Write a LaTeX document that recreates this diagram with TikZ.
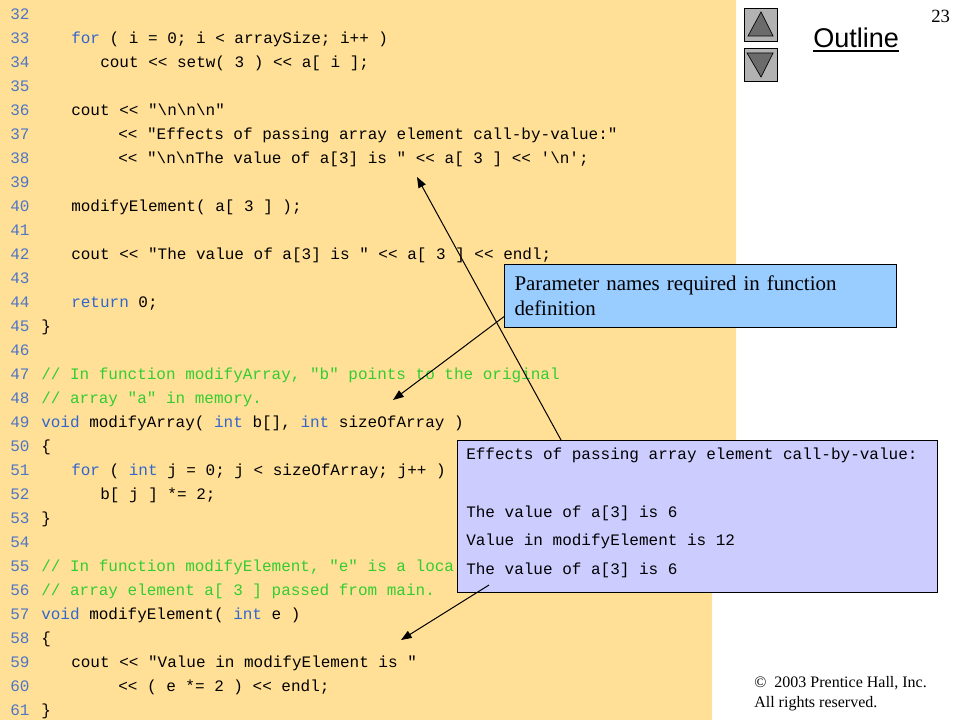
\documentclass[tikz,border=0pt]{standalone}
\usepackage{fontspec}
\usepackage{xcolor}
\usetikzlibrary{arrows.meta}
\setmainfont{Liberation Serif}
\newfontfamily\codefont{Liberation Mono}
\newfontfamily\titlefont{Liberation Sans}
\definecolor{pagebg}{HTML}{FFE096}
\definecolor{numblue}{HTML}{4F75C4}
\definecolor{kwblue}{HTML}{3366CC}
\definecolor{cmtgreen}{HTML}{33CC33}
\definecolor{parambg}{HTML}{99CCFF}
\definecolor{outputbg}{HTML}{CCCCFF}
\newcommand{\kw}[1]{\textcolor{kwblue}{#1}}
\newcommand{\cmt}[1]{\textcolor{cmtgreen}{#1}}
\newcommand{\bs}{\textbackslash}
\tikzset{
    lineno/.style={anchor=base west, inner sep=0pt, text=numblue, font=\codefont\fontsize{12}{14}\selectfont},
    codeline/.style={anchor=base west, inner sep=0pt, font=\codefont\fontsize{12}{14}\selectfont},
    callout/.style={draw=black, line width=.75pt, anchor=north west},
    navbutton/.style={draw=black, line width=.75pt, fill=black!30, anchor=north west, minimum width=24.75pt, minimum height=24.75pt, inner sep=0pt},
    navglyph/.style={draw=black, line width=.5pt, fill=black!58},
    pointer/.style={draw=black, line width=.75pt, -{Triangle[length=8pt,width=6pt]}}
}
\begin{document}
\begin{tikzpicture}[x=.75pt, y=-.75pt]
    \useasboundingbox (0,0) rectangle (960,720);
    % Page background
    \fill[pagebg] (0,0) -- (736,0) -- (736,516) -- (712,516) -- (712,720) -- (0,720) -- cycle;
    % Code lines
    \foreach \i/\ind/\txt in {
        32/41/{},
        33/71/{\kw{for} ( i = 0; i < arraySize; i++ )},
        34/100/{cout << setw( 3 ) << a[ i ];},
        35/41/{},
        36/71/{cout << "\bs n\bs n\bs n"},
        37/118/{<< "Effects of passing array element call-by-value:"},
        38/118/{<< "\bs n\bs nThe value of a[3] is " << a[ 3 ] << '\bs n';},
        39/41/{},
        40/71/{modifyElement( a[ 3 ] );},
        41/41/{},
        42/71/{cout << "The value of a[3] is " << a[ 3 ] << endl;},
        43/41/{},
        44/71/{\kw{return} 0;},
        45/41/{\}},
        46/41/{},
        47/41/{\cmt{// In function modifyArray, "b" points to the original}},
        48/41/{\cmt{// array "a" in memory.}},
        49/41/{\kw{void} modifyArray( \kw{int} b[], \kw{int} sizeOfArray )},
        50/41/{\{},
        51/71/{\kw{for} ( \kw{int} j = 0; j < sizeOfArray; j++ )},
        52/100/{b[ j ] *= 2;},
        53/41/{\}},
        54/41/{},
        55/41/{\cmt{// In function modifyElement, "e" is a loca}},
        56/41/{\cmt{// array element a[ 3 ] passed from main.}},
        57/41/{\kw{void} modifyElement( \kw{int} e )},
        58/41/{\{},
        59/71/{cout << "Value in modifyElement is "},
        60/118/{<< ( e *= 2 ) << endl;},
        61/41/{\}}} {
        \node[lineno] (Num-\i) at (10,{19.5+(\i-32)*24}) {\i};
        \node[codeline] (Code-\i) at (\ind,{19.5+(\i-32)*24}) {\txt};
    }
    % Outline buttons
    \node[navbutton] (BtnUp) at (744,8) {};
    \node[navbutton] (BtnDown) at (744,48) {};
    \draw[navglyph] (761,12) -- (773,36) -- (748,36) -- cycle;
    \draw[navglyph] (747,53) -- (773,53) -- (761,77) -- cycle;
    % Title and page number
    \node[anchor=base west, inner sep=0pt, font=\titlefont\fontsize{20.3}{24}\selectfont] (Title) at (813,48) {Outline};
    \fill (813,50) rectangle (899,52);
    \node[anchor=base west, inner sep=0pt, font=\fontsize{14}{16}\selectfont] (PageNo) at (931,23) {23};
    % Copyright
    \node[anchor=base west, inner sep=0pt, font=\fontsize{12}{14}\selectfont] (Copy-1) at (754,687) {©\hspace{3pt} 2003 Prentice Hall, Inc.};
    \node[anchor=base west, inner sep=0pt, font=\fontsize{12}{14}\selectfont] (Copy-2) at (754,707) {All rights reserved.};
    % Callouts
    \node[callout, fill=parambg, text width=279pt, inner xsep=7.5pt, minimum height=47.25pt, align=left,
        font=\fontsize{15.7}{18.75}\selectfont] (ParamBox) at (504,264) {Parameter names required in function\\definition};
    \coordinate (TipValue) at (417,177);
    \coordinate (TipArray) at (393,400);
    \coordinate (TipElement) at (401,640);
    \coordinate (OutputInner) at (489,585);
    \draw[pointer] (ParamBox.186.8) -- (TipArray);
    \node[callout, fill=outputbg, minimum width=360pt, minimum height=114pt, inner sep=0pt] (OutputBox) at (457,440) {};
    \draw[pointer] ([xshift=78pt]OutputBox.north west) -- (TipValue);
    % Output lines
    \foreach \i/\txt in {
        1/{Effects of passing array element call-by-value:},
        3/{The value of a[3] is 6},
        4/{Value in modifyElement is 12},
        5/{The value of a[3] is 6}} {
        \node[codeline] (Output-\i) at (466,{459.5+(\i-1)*28.75}) {\txt};
    }
    \draw[pointer] (OutputInner) -- (TipElement);
\end{tikzpicture}
\end{document}
